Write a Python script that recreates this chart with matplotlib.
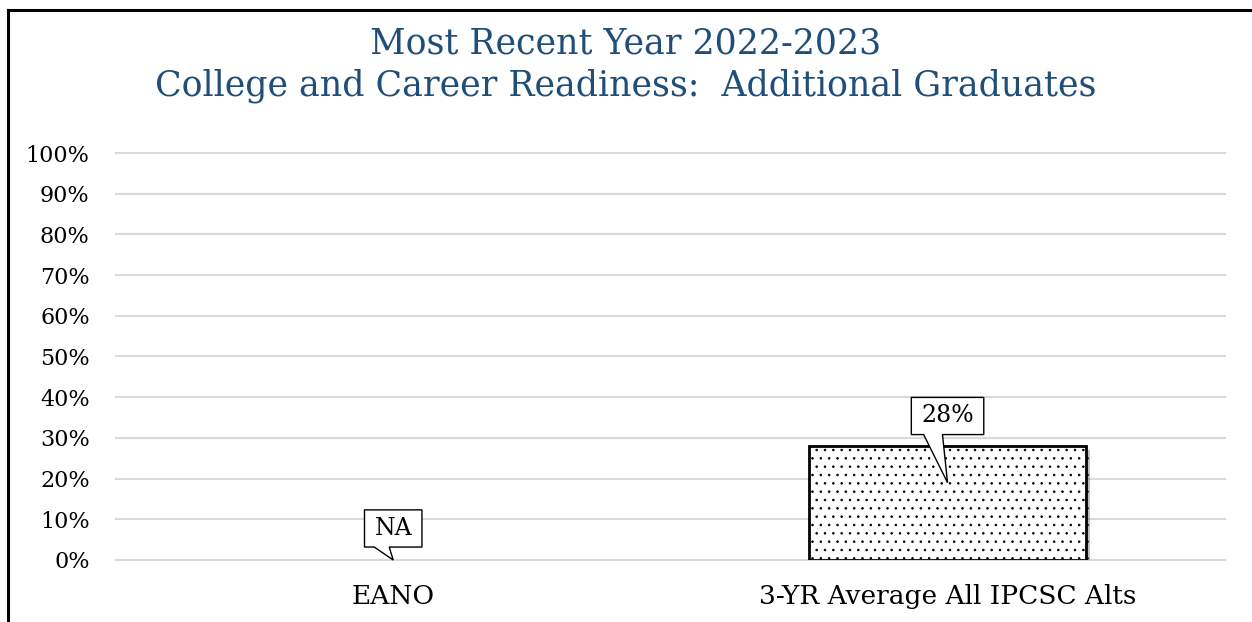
import numpy as np
import matplotlib
matplotlib.use('Agg')
import matplotlib.pyplot as plt
from matplotlib.lines import Line2D
from matplotlib.path import Path
from matplotlib.transforms import ScaledTranslation
import matplotlib.patheffects as pe

# chart data
categories = ['EANO', '3-YR Average All IPCSC Alts']
values = [np.nan, 28]
value_labels = ['NA', '28%']
callout_tips = [0, 19]       # where each callout points (percent)
y_ticks = list(range(0, 101, 10))
title_lines = ['Most Recent Year 2022-2023',
               'College and Career Readiness:  Additional Graduates']

plt.rcParams['font.family'] = ['DejaVu Serif']
plt.rcParams['hatch.linewidth'] = 0.6
plt.rcParams['hatch.color'] = '#262626'

DPI = 100
fig = plt.figure(figsize=(12.52, 6.22), dpi=DPI)
ax = fig.add_axes([0.0927, 0.0997, 0.8855, 0.6543])


class CalloutBox:
    """Rectangular callout with a pointer going down to a tip (offset in points)."""
    def __init__(self, dy_pt, base=(0.17, 0.43), pad=(0.42, 0.3)):
        self.dy = dy_pt * DPI / 72.0
        self.base = base
        self.pad = pad

    def __call__(self, x0, y0, width, height, mutation_size):
        px, py = self.pad[0] * mutation_size, self.pad[1] * mutation_size
        cx, cy = x0 + width / 2.0, y0 + height / 2.0
        L, R = x0 - px, x0 + width + px
        B, T = y0 - py, y0 + height + py
        w = R - L
        verts = [(L, B), (L + self.base[0] * w, B), (cx, cy - self.dy),
                 (L + self.base[1] * w, B), (R, B), (R, T), (L, T), (L, B)]
        codes = [Path.MOVETO] + [Path.LINETO] * 6 + [Path.CLOSEPOLY]
        return Path(verts, codes)


x = np.arange(len(categories))
bars = ax.bar(x, values, width=0.5, color='white', edgecolor='black',
              linewidth=2, hatch='..', zorder=3)
for b in bars:
    b.set_path_effects([pe.SimplePatchShadow(offset=(2.5, -2.5), shadow_rgbFace='#000000', alpha=0.25),
                        pe.Normal()])

ax.set_xlim(-0.5, len(categories) - 0.5)
ax.set_ylim(0, 100)
ax.set_yticks(y_ticks)
ax.set_yticklabels(['%d%%' % t for t in y_ticks], fontsize=16)
ax.set_xticks(x)
ax.set_xticklabels(categories, fontsize=19)
ax.tick_params(length=0)
ax.tick_params(axis='y', pad=19)
ax.tick_params(axis='x', pad=17)
ax.yaxis.grid(True, color='#d9d9d9', linewidth=1.5, zorder=0)
for gl in ax.get_ygridlines():
    gl.set_clip_on(False)
for s in ax.spines.values():
    s.set_visible(False)

# callout labels: text sits above the tip, box drawn with pointer
for i, (lab, tip) in enumerate(zip(value_labels, callout_tips)):
    top = np.nan_to_num(values[i])
    dy = 48 if top > 0 else 22.7
    trans = ax.transData + ScaledTranslation(0, dy / 72.0, fig.dpi_scale_trans)
    ax.text(x[i], tip, lab, transform=trans, ha='center', va='center',
            fontsize=17, zorder=5,
            bbox=dict(boxstyle=CalloutBox(dy), fc='white', ec='black', lw=1))

fig.text(0.5, 1 - 44 / 622, title_lines[0], ha='center', va='center',
         fontsize=25, color='#1f4e79')
fig.text(0.5, 1 - 86 / 622, title_lines[1], ha='center', va='center',
         fontsize=25, color='#1f4e79')

# outer frame (left and top edges visible)
fig.add_artist(Line2D([7.5 / 1252, 7.5 / 1252], [0, 1 - 9.5 / 622], color='black', lw=2.2,
                      transform=fig.transFigure))
fig.add_artist(Line2D([7.5 / 1252, 1], [1 - 9.5 / 622, 1 - 9.5 / 622], color='black', lw=2.2,
                      transform=fig.transFigure))

fig.savefig('out.png', dpi=DPI)
